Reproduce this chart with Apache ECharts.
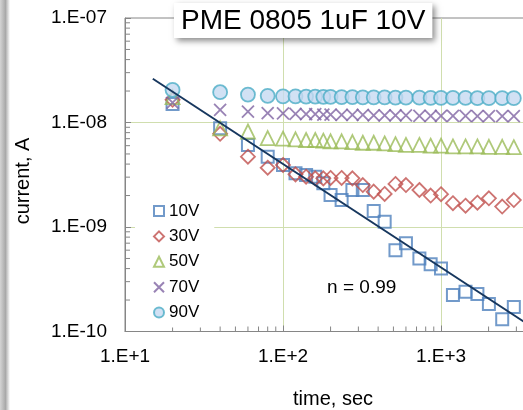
<!DOCTYPE html>
<html><head><meta charset="utf-8">
<script src="https://cdn.jsdelivr.net/npm/echarts@6/dist/echarts.min.js"></script>
<style>html,body{margin:0;padding:0;background:#fff}#c{width:523px;height:410px}</style>
</head><body><div id="c"></div>
<script>
// time, sec
const times = [20,40,60,80,100,120,140,160,180,200,235,275,320,375,440,515,600,730,860,1000,1190,1430,1700,2010,2440,2890];
// current, A
const v10 = [1.5e-8,8.8e-9,6.1e-9,4.71e-9,3.92e-9,3.26e-9,3.15e-9,3.03e-9,2.62e-9,2.02e-9,1.81e-9,2.26e-9,2.26e-9,1.42e-9,1.12e-9,6.0e-10,7.0e-10,5.0e-10,4.4e-10,4.0e-10,2.24e-10,2.4e-10,2.29e-10,1.83e-10,1.31e-10,1.72e-10];
const v30 = [1.65e-8,7.8e-9,4.71e-9,3.69e-9,3.92e-9,3.19e-9,3.03e-9,2.92e-9,2.92e-9,2.95e-9,2.95e-9,2.92e-9,2.52e-9,2.18e-9,2.07e-9,2.58e-9,2.52e-9,2.26e-9,2.0e-9,2.06e-9,1.69e-9,1.60e-9,1.71e-9,1.88e-9,1.57e-9,1.81e-9];
const v50 = [1.75e-8,8.8e-9,8.2e-9,7.1e-9,7.0e-9,6.9e-9,6.8e-9,6.8e-9,6.7e-9,6.6e-9,6.6e-9,6.5e-9,6.4e-9,6.4e-9,6.3e-9,6.2e-9,6.1e-9,6.1e-9,6.0e-9,6.0e-9,5.9e-9,5.9e-9,5.9e-9,5.85e-9,5.85e-9,5.8e-9];
const v70 = [1.55e-8,1.32e-8,1.27e-8,1.23e-8,1.22e-8,1.21e-8,1.2e-8,1.2e-8,1.19e-8,1.19e-8,1.18e-8,1.18e-8,1.18e-8,1.17e-8,1.17e-8,1.17e-8,1.17e-8,1.16e-8,1.16e-8,1.16e-8,1.16e-8,1.16e-8,1.15e-8,1.15e-8,1.15e-8,1.15e-8];
const v90 = [2.05e-8,1.95e-8,1.85e-8,1.8e-8,1.78e-8,1.78e-8,1.77e-8,1.77e-8,1.76e-8,1.76e-8,1.75e-8,1.75e-8,1.74e-8,1.74e-8,1.74e-8,1.73e-8,1.73e-8,1.73e-8,1.72e-8,1.72e-8,1.72e-8,1.72e-8,1.71e-8,1.71e-8,1.71e-8,1.71e-8];
// power-law fit line (n = 0.99)
const fitTimes = [15, 4000];
const fitValues = [2.62e-8, 1.04e-10];
const seriesNames = ['10V','30V','50V','70V','90V'];
const xTickLabels = ['1.E+1','1.E+2','1.E+3','1.E+4'];
const yTickLabels = ['1.E-10','1.E-09','1.E-08','1.E-07'];
const titleText = 'PME 0805 1uF 10V';
const fitLabel = 'n = 0.99';

const FONT = 'Liberation Sans, Arial, sans-serif';
const pair = (xs, ys) => xs.map((x, i) => [x, ys[i]]);
const xMinor = [], yMinor = [];
[1,2,3].forEach(e => { for (let k = 2; k <= 9; k++) xMinor.push([k * Math.pow(10, e), 1e-10]); });
[-10,-9,-8].forEach(e => { for (let k = 2; k <= 9; k++) yMinor.push([10, k * Math.pow(10, e)]); });

const chart = echarts.init(document.getElementById('c'), null, {renderer: 'canvas'});
const hollow = (c, w) => ({color: 'rgba(255,255,255,0)', borderColor: c, borderWidth: w});
const option = {
  backgroundColor: '#ffffff',
  animation: false,
  title: {
    text: titleText, left: 174, top: 3,
    padding: [4, 7, 3, 7],
    backgroundColor: '#ffffff',
    shadowBlur: 6, shadowColor: 'rgba(0,0,0,0.45)', shadowOffsetX: 3, shadowOffsetY: 3,
    textStyle: {fontFamily: FONT, fontSize: 28, fontWeight: 'normal', color: '#000', lineHeight: 28}
  },
  grid: {left: 125, top: 18, bottom: 78.5, right: -76, containLabel: false, outerBoundsMode: 'none',
    show: true, borderColor: '#868686', borderWidth: 1, backgroundColor: 'transparent'},
  legend: {
    orient: 'vertical', left: 135, top: 196,
    data: seriesNames,
    backgroundColor: '#ffffff',
    padding: [5, 15, 5, 18],
    itemWidth: 10, itemHeight: 10, itemGap: 5.4,
    textStyle: {fontFamily: FONT, fontSize: 17, color: '#000', lineHeight: 20}
  },
  xAxis: {
    type: 'log', logBase: 10, min: 10, max: 10000,
    axisLine: {show: true, lineStyle: {color: '#868686', width: 1}},
    axisTick: {show: true, inside: true, length: 6, lineStyle: {color: '#868686'}},
    axisLabel: {fontFamily: FONT, fontSize: 19, color: '#000', margin: 16,
      formatter: v => xTickLabels[Math.round(Math.log10(v)) - 1]},
    splitLine: {show: true, showMinLine: false, showMaxLine: false, lineStyle: {color: '#d0deae', width: 1}}
  },
  yAxis: {
    type: 'log', logBase: 10, min: 1e-10, max: 1e-7,
    axisLine: {show: true, lineStyle: {color: '#868686', width: 1}},
    axisTick: {show: true, inside: true, length: 6, lineStyle: {color: '#868686'}},
    axisLabel: {fontFamily: FONT, fontSize: 19, color: '#000', margin: 18,
      formatter: v => yTickLabels[Math.round(Math.log10(v)) + 10]},
    splitLine: {show: true, showMinLine: false, showMaxLine: false, lineStyle: {color: '#d0deae', width: 1}}
  },
  graphic: [
    {type: 'rect', left: 0, top: 0, z: -10, shape: {width: 10, height: 410},
      style: {fill: new echarts.graphic.LinearGradient(0, 0, 1, 0, [
        {offset: 0, color: '#d4d4d4'}, {offset: 0.55, color: '#a9a9a9'}, {offset: 1, color: '#ffffff'}])}},
    {type: 'text', x: 361.7, y: 288, z: 10, style: {text: fitLabel, fontFamily: FONT, fontSize: 19, fill: '#000', align: 'center', verticalAlign: 'middle'}},
    {type: 'text', x: 333, y: 399, style: {text: 'time, sec', fontFamily: FONT, fontSize: 20, fill: '#000', align: 'center', verticalAlign: 'middle'}},
    {type: 'text', x: 23.5, y: 181, rotation: Math.PI / 2, style: {text: 'current, A', fontFamily: FONT, fontSize: 20, fill: '#000', align: 'center', verticalAlign: 'middle'}}
  ],
  series: [
    {type: 'custom', silent: true, data: xMinor, z: 1,
      renderItem: (p, api) => { const c = api.coord([api.value(0), api.value(1)]);
        return {type: 'line', shape: {x1: c[0], y1: c[1], x2: c[0], y2: c[1] - 5}, style: {stroke: '#868686', lineWidth: 1}}; }},
    {type: 'custom', silent: true, data: yMinor, z: 1,
      renderItem: (p, api) => { const c = api.coord([api.value(0), api.value(1)]);
        return {type: 'line', shape: {x1: c[0], y1: c[1], x2: c[0] + 5, y2: c[1]}, style: {stroke: '#868686', lineWidth: 1}}; }},
    {name: '10V', type: 'scatter', data: pair(times, v10), symbol: 'rect', symbolSize: 12, z: 3,
      itemStyle: hollow('#4F81BD', 2)},
    {name: '30V', type: 'scatter', data: pair(times, v30), symbol: 'diamond', symbolSize: 14, z: 3,
      itemStyle: hollow('#C0504D', 1.8)},
    {name: '50V', type: 'scatter', data: pair(times, v50), symbol: 'triangle', symbolSize: 14, z: 3,
      itemStyle: hollow('#9BBB59', 1.8)},
    {name: '70V', type: 'scatter', data: pair(times, v70), symbol: 'path://M0,0L10,10M0,10L10,0', symbolSize: 12, z: 3,
      itemStyle: hollow('#8064A2', 1.8)},
    {name: '90V', type: 'scatter', data: pair(times, v90), symbol: 'circle', symbolSize: 14, z: 3,
      itemStyle: {color: '#C6D9F1', borderColor: '#4BACC6', borderWidth: 1.8}},
    {name: 'fit', type: 'line', data: pair(fitTimes, fitValues), showSymbol: false, symbol: 'none', z: 5,
      lineStyle: {color: '#17375E', width: 2}, silent: true}
  ]
};
chart.setOption(option);
</script></body></html>
